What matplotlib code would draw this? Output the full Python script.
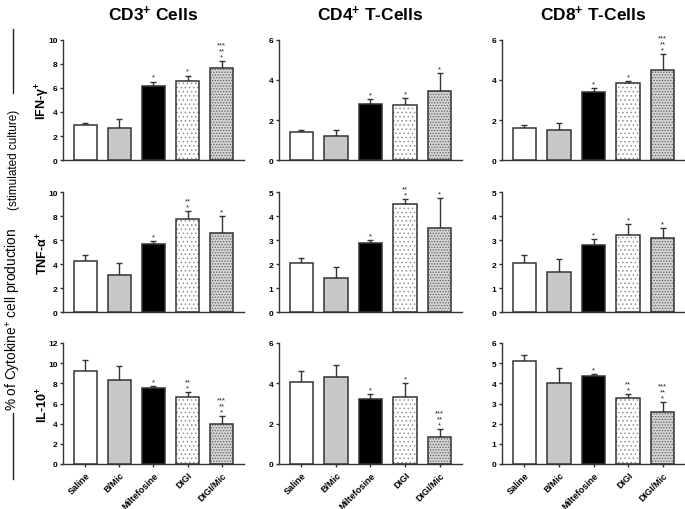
import matplotlib.pyplot as plt
from matplotlib.lines import Line2D

plt.rcParams['font.family'] = ['Liberation Sans', 'DejaVu Sans']
plt.rcParams['mathtext.default'] = 'regular'
plt.rcParams['hatch.linewidth'] = 0.6

groups = ['Saline', 'B/Mic', 'Miltefosine', 'DIGI', 'DIGI/Mic']
columns = ['CD3$^{+}$ Cells', 'CD4$^{+}$ T-Cells', 'CD8$^{+}$ T-Cells']
rows = ['IFN-\u03b3$^{+}$', 'TNF-\u03b1$^{+}$', 'IL-10$^{+}$']

# mean values, upper error, significance level (number of star lines)
cd3_ifn = [2.95, 2.66, 6.18, 6.59, 7.67]
cd3_ifn_err = [0.1, 0.72, 0.36, 0.45, 0.58]
cd3_ifn_sig = [0, 0, 1, 1, 3]
cd4_ifn = [1.38, 1.18, 2.8, 2.76, 3.45]
cd4_ifn_err = [0.1, 0.33, 0.24, 0.33, 0.9]
cd4_ifn_sig = [0, 0, 1, 1, 1]
cd8_ifn = [1.58, 1.5, 3.4, 3.85, 4.52]
cd8_ifn_err = [0.18, 0.37, 0.2, 0.08, 0.8]
cd8_ifn_sig = [0, 0, 1, 1, 3]

cd3_tnf = [4.24, 3.1, 5.64, 7.75, 6.58]
cd3_tnf_err = [0.54, 0.98, 0.28, 0.67, 1.39]
cd3_tnf_sig = [0, 0, 1, 2, 1]
cd4_tnf = [2.05, 1.42, 2.86, 4.5, 3.5]
cd4_tnf_err = [0.19, 0.47, 0.15, 0.2, 1.23]
cd4_tnf_sig = [0, 0, 1, 2, 1]
cd8_tnf = [2.05, 1.68, 2.78, 3.22, 3.07]
cd8_tnf_err = [0.33, 0.51, 0.26, 0.45, 0.42]
cd8_tnf_sig = [0, 0, 1, 1, 1]

cd3_il10 = [9.25, 8.38, 7.56, 6.62, 3.97]
cd3_il10_err = [1.05, 1.3, 0.16, 0.53, 0.82]
cd3_il10_sig = [0, 0, 1, 2, 3]
cd4_il10 = [4.09, 4.3, 3.21, 3.31, 1.34]
cd4_il10_err = [0.54, 0.62, 0.25, 0.69, 0.4]
cd4_il10_sig = [0, 0, 1, 1, 3]
cd8_il10 = [5.13, 4.04, 4.35, 3.28, 2.59]
cd8_il10_err = [0.28, 0.7, 0.1, 0.19, 0.47]
cd8_il10_sig = [0, 0, 1, 2, 3]

panels = [
    [(cd3_ifn, cd3_ifn_err, cd3_ifn_sig), (cd4_ifn, cd4_ifn_err, cd4_ifn_sig), (cd8_ifn, cd8_ifn_err, cd8_ifn_sig)],
    [(cd3_tnf, cd3_tnf_err, cd3_tnf_sig), (cd4_tnf, cd4_tnf_err, cd4_tnf_sig), (cd8_tnf, cd8_tnf_err, cd8_tnf_sig)],
    [(cd3_il10, cd3_il10_err, cd3_il10_sig), (cd4_il10, cd4_il10_err, cd4_il10_sig), (cd8_il10, cd8_il10_err, cd8_il10_sig)],
]
yticks = [
    [range(0, 11, 2), range(0, 7, 2), range(0, 7, 2)],
    [range(0, 11, 2), range(0, 6), range(0, 6)],
    [range(0, 13, 2), range(0, 7, 2), range(0, 7)],
]

# bar looks: face, hatch, hatch colour
faces = ['white', '#c8c8c8', 'black', 'white', '#d4d4d4']
hatches = [None, None, None, '....', '......']
hatch_cols = [None, None, None, '#909090', '#606060']
edge = '#333333'

W, H = 685, 510
fig = plt.figure(figsize=(6.85, 5.1), dpi=100)

col_px = [(63, 181), (279, 183), (502, 183)]
row_px = [(41, 161), (193, 313), (344, 465)]

x = list(range(len(groups)))
for r in range(3):
    for c in range(3):
        l, w = col_px[c]
        t, b = row_px[r]
        ax = fig.add_axes([l / W, 1 - b / H, w / W, (b - t) / H])
        vals, errs, sig = panels[r][c]
        for i in x:
            if hatches[i]:
                ax.bar(i, vals[i], 0.67, color=faces[i], hatch=hatches[i],
                       edgecolor=hatch_cols[i], linewidth=0, zorder=2)
                ax.bar(i, vals[i], 0.67, fill=False, edgecolor=edge,
                       linewidth=1.1, zorder=3)
            else:
                ax.bar(i, vals[i], 0.67, color=faces[i], edgecolor=edge,
                       linewidth=1.1, zorder=3)
        ax.errorbar(x, vals, yerr=[[0] * 5, errs], fmt='none', ecolor=edge,
                    elinewidth=1.0, capsize=2.5, capthick=1.0, zorder=1)
        for i in x:
            if sig[i]:
                s = '\n'.join('*' * k for k in range(sig[i], 0, -1))
                ax.annotate(s, (i, vals[i] + errs[i]), xytext=(0, 0.5),
                            textcoords='offset points', ha='center',
                            va='bottom', fontsize=5.5, linespacing=0.8,
                            color='#222222')
        ax.set_xlim(-0.65, 4.65)
        yt = list(yticks[r][c])
        ax.set_ylim(0, yt[-1])
        ax.set_yticks(yt)
        ax.set_yticklabels([str(v) for v in yt], fontsize=6,
                           fontweight='bold')
        for s in ['top', 'right']:
            ax.spines[s].set_visible(False)
        for s in ['left', 'bottom']:
            ax.spines[s].set_color(edge)
            ax.spines[s].set_linewidth(1.0)
        ax.tick_params(axis='y', length=2.5, width=1.0, color=edge, pad=1.5)
        ax.set_xticks(x)
        if r == 2:
            ax.set_xticklabels(groups, rotation=45, ha='right',
                               rotation_mode='anchor', fontsize=6.5,
                               fontweight='bold')
            ax.tick_params(axis='x', length=2.5, width=1.0, color=edge, pad=2)
        else:
            ax.set_xticklabels([])
            ax.tick_params(axis='x', length=0)
        if r == 0:
            fig.text((l + w / 2) / W, 1 - 14 / H, columns[c], ha='center',
                     va='center', fontsize=12.5, fontweight='bold')
        if c == 0:
            fig.text(43 / W, 1 - (t + b) / 2 / H, rows[r], ha='center',
                     va='center', rotation=90, fontsize=9, fontweight='bold')

# shared y label with lines on both sides
fig.text(14 / W, 1 - 320 / H, '% of Cytokine$^{+}$ cell production',
         rotation=90, ha='center', va='center', fontsize=9.8)
fig.text(14 / W, 1 - 160 / H, '(stimulated culture)', rotation=90,
         ha='center', va='center', fontsize=8.5)
for y0, y1 in [(30, 94), (414, 480)]:
    fig.add_artist(Line2D([13 / W, 13 / W], [1 - y0 / H, 1 - y1 / H],
                          color='#222222', linewidth=1.0))

plt.savefig('out.png', dpi=100)
